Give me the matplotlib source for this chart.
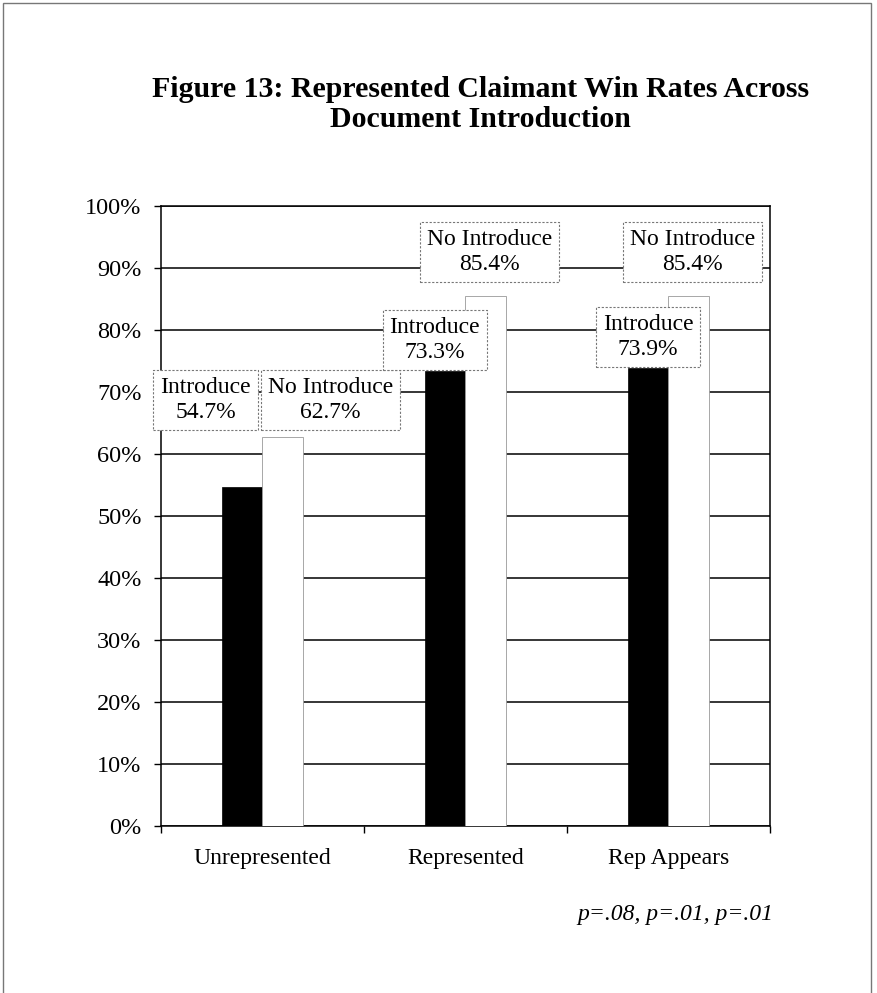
import matplotlib
matplotlib.use("Agg")
import matplotlib.pyplot as plt
import numpy as np
from matplotlib.patches import Rectangle

categories = ["Unrepresented", "Represented", "Rep Appears"]
introduce = [54.7, 73.3, 73.9]
no_introduce = [62.7, 85.4, 85.4]
series_names = ["Introduce", "No Introduce"]
p_note = "p=.08, p=.01, p=.01"

plt.rcParams['font.family'] = ['Liberation Serif', 'DejaVu Serif']

fig = plt.figure(figsize=(8.77, 9.93), dpi=100)
ax = fig.add_axes([0.1836, 0.1682, 0.694, 0.6244])

x = np.arange(len(categories))
w = 0.2
ax.bar(x - w / 2, introduce, w, color="black", edgecolor="black", linewidth=0.5, zorder=3)
ax.bar(x + w / 2, no_introduce, w, color="white", edgecolor="#999999", linewidth=0.6, zorder=3)

ax.set_xlim(-0.5, 2.5)
ax.set_ylim(0, 100)
ax.set_yticks(np.arange(0, 101, 10))
ax.set_yticklabels(["{}%".format(v) for v in range(0, 101, 10)], fontsize=17.5)
ax.set_xticks(x)
ax.set_xticklabels(categories, fontsize=17)
ax.tick_params(axis="x", which="major", length=0, pad=16)
ax.set_xticks(np.arange(-0.5, 3, 1), minor=True)
ax.tick_params(axis="x", which="minor", length=5, width=1)
ax.tick_params(axis="y", length=5, width=1, pad=9)
ax.grid(axis="y", color="black", linewidth=1.1, zorder=0)
for s in ax.spines.values():
    s.set_linewidth(1.1)

# label positions (layout only)
lab_pos = [
    [(-0.28, 68.7), (0.335, 68.7)],
    [(0.85, 78.4), (1.12, 92.6)],
    [(1.90, 78.9), (2.12, 92.6)],
]
vals = [introduce, no_introduce]
for i in range(len(categories)):
    for j in range(2):
        px, py = lab_pos[i][j]
        ax.text(px, py, "{}\n{:.1f}%".format(series_names[j], vals[j][i]),
                ha="center", va="center", fontsize=17, linespacing=1.25, zorder=5,
                bbox=dict(boxstyle="square,pad=0.3", facecolor="white",
                          edgecolor="#777777", linestyle=(0, (2, 1.5)), linewidth=0.8))

fig.text(0.548, 0.895, "Figure 13: Represented Claimant Win Rates Across\nDocument Introduction",
         ha="center", va="center", fontsize=21.5, fontweight="bold", linespacing=1.15)
fig.text(0.77, 0.079, p_note, ha="center", va="center", fontsize=17, style="italic")

fig.patches.append(Rectangle((0.003, -0.05), 0.99, 1.047, transform=fig.transFigure,
                             fill=False, edgecolor="#777777", linewidth=1))

fig.savefig("out.png", dpi=100)
